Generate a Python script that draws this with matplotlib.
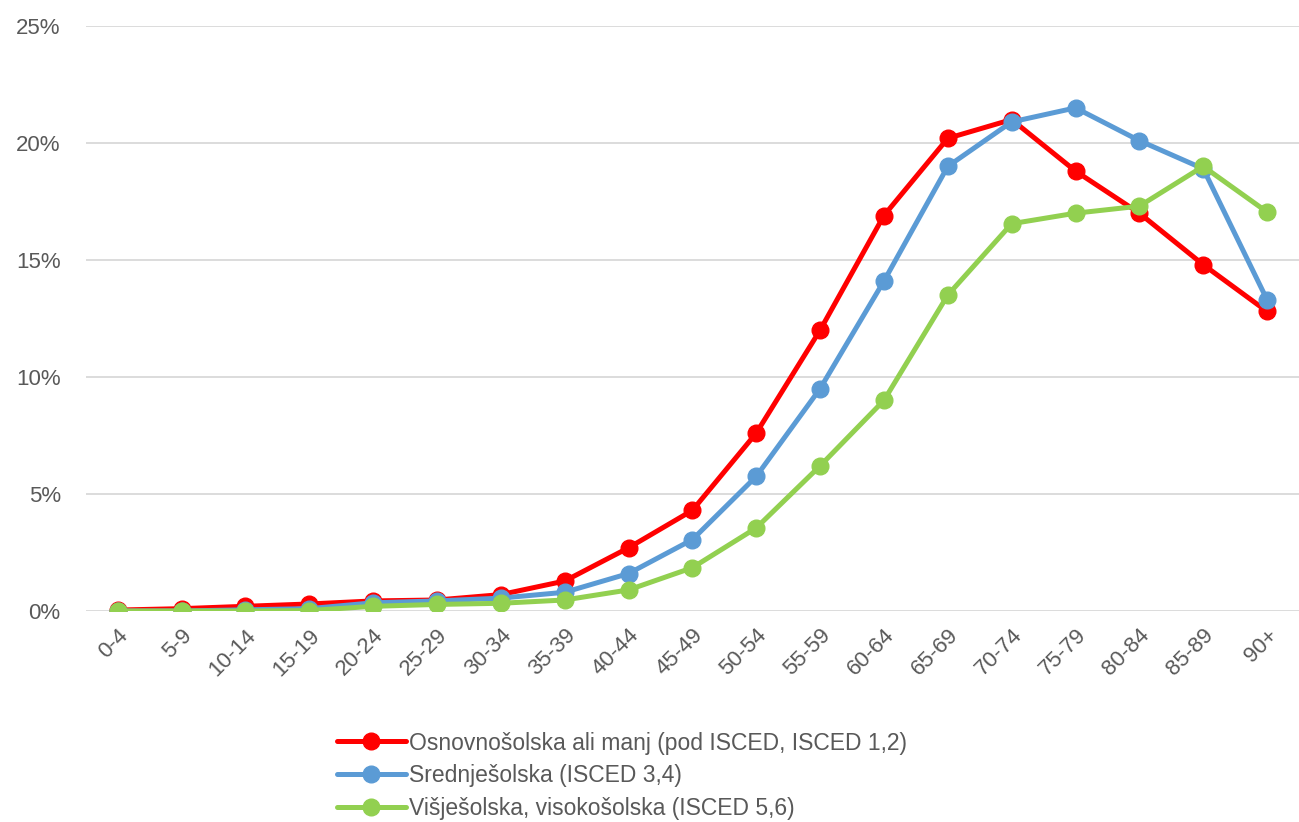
import matplotlib
matplotlib.use("Agg")
import matplotlib.pyplot as plt
from matplotlib.ticker import PercentFormatter

age_groups = ["0-4", "5-9", "10-14", "15-19", "20-24", "25-29", "30-34", "35-39",
              "40-44", "45-49", "50-54", "55-59", "60-64", "65-69", "70-74",
              "75-79", "80-84", "85-89", "90+"]

# shares in percent
osnovna = [0.04, 0.1, 0.2, 0.3, 0.43, 0.47, 0.7, 1.28, 2.7, 4.3, 7.6, 12.0,
           16.9, 20.2, 21.0, 18.8, 17.0, 14.8, 12.8]
srednja = [0.0, 0.0, 0.05, 0.1, 0.35, 0.43, 0.55, 0.8, 1.6, 3.05, 5.75, 9.5,
           14.1, 19.0, 20.9, 21.5, 20.1, 18.9, 13.3]
visja = [0.0, 0.0, 0.0, 0.02, 0.2, 0.28, 0.33, 0.47, 0.9, 1.85, 3.55, 6.2,
         9.0, 13.5, 16.55, 17.0, 17.3, 19.0, 17.05]

labels = ["Osnovnošolska ali manj (pod ISCED, ISCED 1,2)",
          "Srednješolska (ISCED 3,4)",
          "Višješolska, visokošolska (ISCED 5,6)"]
colors = ["#FF0000", "#5B9BD5", "#92D050"]

plt.rcParams['font.family'] = ['Liberation Sans', 'DejaVu Sans']

fig = plt.figure(figsize=(12.99, 8.22), dpi=100)
ax = fig.add_axes([0.066, 0.2567, 0.934, 0.7117])

x = list(range(len(age_groups)))
for series, lab, col in zip([osnovna, srednja, visja], labels, colors):
    ax.plot(x, series, color=col, lw=3.6, marker="o", ms=12, label=lab,
            solid_capstyle="round")

ax.set_xlim(-0.5, len(age_groups) - 0.5)
ax.set_ylim(0, 25)
ax.set_yticks([0, 5, 10, 15, 20, 25])
ax.yaxis.set_major_formatter(PercentFormatter(decimals=0))
ax.set_xticks(x)
ax.set_xticklabels(age_groups, rotation=45, ha="right", rotation_mode="anchor")
ax.tick_params(length=0, labelsize=16, colors="#595959", pad=10)
ax.tick_params(axis="y", pad=18)
ax.grid(axis="y", color="#d9d9d9", lw=1.3)
ax.set_axisbelow(True)
for s in ax.spines.values():
    s.set_visible(False)

ax.legend(loc="upper left", bbox_to_anchor=(0.207, -0.206), frameon=False,
          fontsize=16.5, labelcolor="#595959", handlelength=3.0, handletextpad=0.15,
          labelspacing=0.42, borderaxespad=0, borderpad=0)

fig.savefig("out.png", dpi=100)
